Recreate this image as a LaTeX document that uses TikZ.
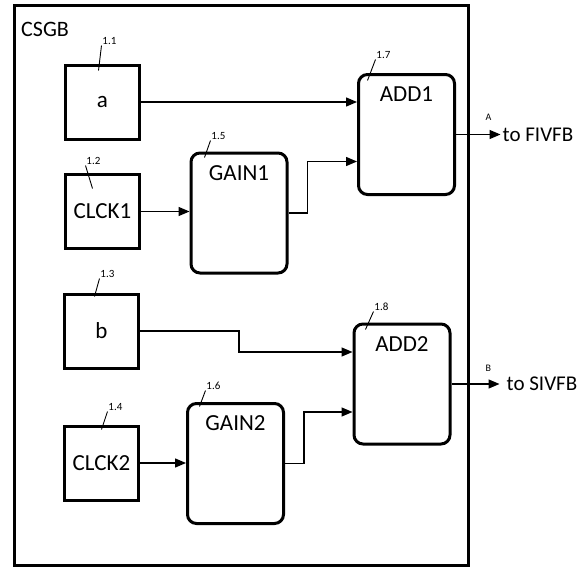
\documentclass[tikz,border=0pt]{standalone}
\usepackage{fontspec}
\setmainfont{Carlito}
\usetikzlibrary{arrows.meta, positioning}

\begin{document}
\begin{tikzpicture}[x=1pt, y=-1pt,
    blk/.style={draw, line width=3pt, minimum width=74pt, minimum height=74pt, inner sep=0pt, font=\fontsize{23}{25}\selectfont},
    fn/.style={draw, line width=3pt, rounded corners=9pt, minimum width=96pt, minimum height=120pt, inner sep=0pt},
    fntxt/.style={inner sep=0pt, font=\fontsize{23}{25}\selectfont},
    flow/.style={line width=1.3pt, -{Triangle[length=11pt, width=9pt]}},
    tick/.style={line width=0.9pt},
    tagtxt/.style={anchor=south west, inner sep=0.5pt, font=\fontsize{11}{12}\selectfont},
    pintxt/.style={inner sep=0pt, font=\fontsize{10}{11}\selectfont},
    outtxt/.style={anchor=west, inner sep=2pt, font=\fontsize{21}{23}\selectfont}]
  \useasboundingbox (0,0) rectangle (579,570);
  \draw[line width=3pt] (14,5) rectangle (468,565);
  \node[anchor=west, inner sep=0pt, font=\fontsize{22}{24}\selectfont] (csgb) at (21,29) {CSGB};

  % sources
  \node[blk] (a) at (102.5,102) {a};
  \node[blk] (clck1) at (102.5,211.5) {CLCK1};
  \node[blk] (b) at (101.5,331) {b};
  \node[blk] (clck2) at (101.5,463) {CLCK2};

  % function blocks
  \node[fn] (gain1) at (239,213) {};
  \node[fn] (gain2) at (235.5,463.5) {};
  \node[fn] (add1) at (406.5,134.5) {};
  \node[fn] (add2) at (402,384) {};
  \node[fntxt, below=13.5pt of gain1.north] {GAIN1};
  \node[fntxt, below=13.5pt of gain2.north] {GAIN2};
  \node[fntxt, below=13.5pt of add1.north] {ADD1};
  \node[fntxt, below=13.5pt of add2.north] {ADD2};

  % tags
  \draw[tick] ([shift={(34.5,7)}]a.north west) -- ++(3,-25) node[tagtxt] {1.1};
  \draw[tick] ([shift={(28.5,15.5)}]clck1.north west) -- ++(-7,-23) node[tagtxt] {1.2};
  \draw[tick] ([shift={(31.5,4)}]b.north west) -- ++(5,-18) node[tagtxt] {1.3};
  \draw[tick] ([shift={(38.5,5)}]clck2.north west) -- ++(6,-18) node[tagtxt] {1.4};
  \draw[tick] ([shift={(15,6)}]gain1.north west) -- ++(6,-17) node[tagtxt] {1.5};
  \draw[tick] ([shift={(13.5,4.5)}]gain2.north west) -- ++(6,-16) node[tagtxt] {1.6};
  \draw[tick] ([shift={(10.5,7.5)}]add1.north west) -- ++(8,-21) node[tagtxt] {1.7};
  \draw[tick] ([shift={(13,7)}]add2.north west) -- ++(8,-18) node[tagtxt] {1.8};

  % outputs
  \node[outtxt] (fivfb) at ([xshift=44.5pt]add1.east) {to FIVFB};
  \node[outtxt, inner xsep=7pt] (sivfb) at ([xshift=48pt]add2.east) {to SIVFB};

  % signals
  \draw[flow] (a.east) -- (a.east -| add1.west);
  \draw[flow] (clck1.east) -- (clck1.east -| gain1.west);
  \draw[flow] (gain1.east) -- ++(19,0) |- ([yshift=-27pt]add1.west);
  \draw[flow] (b.east) -- ++(99,0) |- ([yshift=32pt]add2.west);
  \draw[flow] (clck2.east) -- (clck2.east -| gain2.west);
  \draw[flow] (gain2.east) -- ++(19,0) |- ([yshift=-28pt]add2.west);
  \draw[flow] (add1.east) -- (fivfb.west) node[pos=0.73, above=13pt, pintxt] {A};
  \draw[flow] (add2.east) -- (sivfb.west) node[pos=0.77, above=12pt, pintxt] {B};
\end{tikzpicture}
\end{document}
